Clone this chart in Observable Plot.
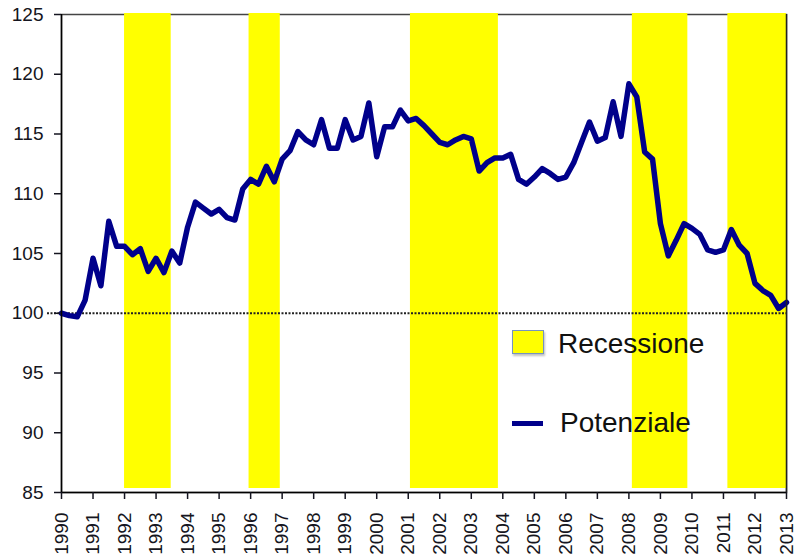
<!DOCTYPE html>
<html><head><meta charset="utf-8">
<script src="https://cdn.jsdelivr.net/npm/d3@7"></script>
<script src="https://cdn.jsdelivr.net/npm/@observablehq/plot@0.6"></script>
<style>
html,body{margin:0;padding:0;background:#fff;}
#wrap{position:relative;width:798px;height:557px;overflow:hidden;}
#wrap svg{display:block;}
.leg{position:absolute;font-family:"Liberation Sans",Arial,sans-serif;font-size:28px;line-height:28px;color:#111;white-space:nowrap;}
.sw-rect{position:absolute;background:#ffff00;border:1px solid #7593c0;box-shadow:1px 2px 2px rgba(0,0,0,0.25);}
.sw-line{position:absolute;background:#00008b;}
</style></head><body><div id="wrap"></div>
<script>
// Quarterly series, first quarter of 1990 to first quarter of 2013
const startYear = 1990;
const potenziale = [
  100.0, 99.8, 99.7, 101.1, 104.6, 102.3, 107.7, 105.6,
  105.6, 104.9, 105.4, 103.5, 104.6, 103.4, 105.2, 104.2,
  107.2, 109.3, 108.8, 108.3, 108.7, 108.0, 107.8, 110.4,
  111.2, 110.8, 112.3, 111.0, 112.9, 113.6, 115.2, 114.5,
  114.1, 116.2, 113.8, 113.8, 116.2, 114.5, 114.8, 117.6,
  113.1, 115.6, 115.6, 117.0, 116.1, 116.3, 115.7, 115.0,
  114.3, 114.1, 114.5, 114.8, 114.6, 111.9, 112.6, 113.0,
  113.0, 113.3, 111.2, 110.8, 111.4, 112.1, 111.7, 111.2,
  111.4, 112.6, 114.3, 116.0, 114.4, 114.7, 117.7, 114.8,
  119.2, 118.1, 113.5, 112.9, 107.5, 104.8, 106.1, 107.5,
  107.1, 106.6, 105.3, 105.1, 105.3, 107.0, 105.7, 105.0,
  102.5, 101.9, 101.5, 100.4, 100.9
];
const recessionStart = [1992.0, 1995.95, 2001.07, 2008.11, 2011.14];
const recessionEnd   = [1993.48, 1996.94, 2003.86, 2009.87, 2013.0];
const yearTicks = [1990,1991,1992,1993,1994,1995,1996,1997,1998,1999,2000,2001,
                   2002,2003,2004,2005,2006,2007,2008,2009,2010,2011,2012,2013];
const valueTicks = [85, 90, 95, 100, 105, 110, 115, 120, 125];
const baseline = [100];
const legendLabels = ["Recessione", "Potenziale"];

const series = potenziale.map((v, i) => ({t: startYear + i / 4, v}));
const bands = recessionStart.map((s, i) => ({s, e: recessionEnd[i]}));
const xDomain = [yearTicks[0], yearTicks[yearTicks.length - 1]];
const yDomain = [valueTicks[0], valueTicks[valueTicks.length - 1]];

const chart = Plot.plot({
  width: 798, height: 557,
  marginLeft: 61, marginRight: 12, marginTop: 14, marginBottom: 65,
  style: {fontFamily: '"Liberation Sans", Arial, sans-serif', fontSize: "19px", color: "#151520", background: "#fff", overflow: "visible"},
  x: {domain: xDomain},
  y: {domain: yDomain},
  marks: [
    Plot.frame({stroke: "#444", strokeWidth: 1.5}),
    Plot.rectY(bands, {x1: "s", x2: "e", y1: yDomain[0], y2: yDomain[1], fill: "#ffff00", insetBottom: 4, insetTop: -1}),
    Plot.ruleY(baseline, {stroke: "#222", strokeWidth: 2, strokeDasharray: "2,1.5", insetLeft: -14}),
    Plot.line(series, {x: "t", y: "v", stroke: "#00008b", strokeWidth: 5.5, strokeLinejoin: "round", strokeLinecap: "round"}),
    Plot.ruleX([xDomain[1]], {stroke: "#222", strokeWidth: 1.5}),
    Plot.ruleX([xDomain[0]], {stroke: "#000", strokeWidth: 1.5}),
    Plot.ruleY([yDomain[0]], {stroke: "#000", strokeWidth: 1.5}),
    Plot.axisY({ticks: valueTicks, tickSize: 7, tickPadding: 11, tickFormat: d => String(d), label: null, strokeWidth: 1.5}),
    Plot.axisX({ticks: yearTicks, tickSize: 7, tickPadding: 13, tickRotate: -90, fontSize: 19, tickFormat: d => String(d), label: null, strokeWidth: 1.5})
  ]
});
const wrap = document.getElementById("wrap");
wrap.appendChild(chart);

// Legend overlay
const sw1 = document.createElement("div");
sw1.className = "sw-rect";
Object.assign(sw1.style, {left: "512px", top: "330px", width: "30px", height: "22px"});
wrap.appendChild(sw1);
const sw2 = document.createElement("div");
sw2.className = "sw-line";
Object.assign(sw2.style, {left: "512px", top: "421px", width: "31px", height: "5px"});
wrap.appendChild(sw2);
const t1 = document.createElement("div");
t1.className = "leg"; t1.textContent = legendLabels[0];
Object.assign(t1.style, {left: "558px", top: "330px"});
wrap.appendChild(t1);
const t2 = document.createElement("div");
t2.className = "leg"; t2.textContent = legendLabels[1];
Object.assign(t2.style, {left: "560px", top: "409px"});
wrap.appendChild(t2);
</script>
</body></html>
